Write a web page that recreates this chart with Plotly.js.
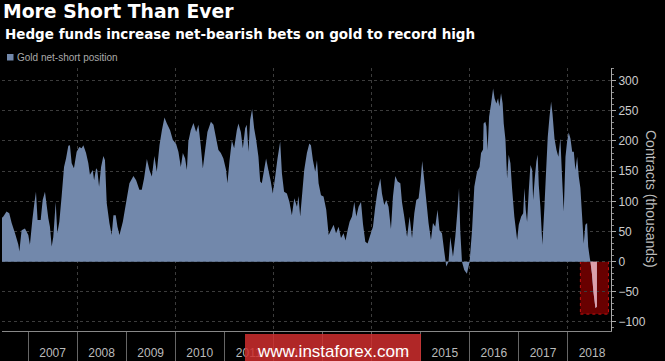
<!DOCTYPE html>
<html><head><meta charset="utf-8">
<script src="https://cdn.plot.ly/plotly-3.0.1.min.js"></script>
<style>html,body{margin:0;padding:0;background:#000;}#chart{width:665px;height:361px;}</style>
</head><body><div id="chart"></div>
<script>
// Weekly-ish readings, dates as decimal years
const dates = [
2006.463,2006.497,2006.564,2006.619,2006.667,2006.735,2006.803,2006.823,2006.871,2006.939,
2007.007,2007.041,2007.088,2007.129,2007.163,2007.197,2007.259,2007.299,2007.347,2007.415,
2007.449,2007.483,2007.517,2007.565,2007.599,2007.639,2007.687,2007.735,2007.776,2007.823,
2007.857,2007.891,2007.939,2007.993,2008.048,2008.095,2008.129,2008.184,2008.231,2008.265,
2008.320,2008.347,2008.388,2008.415,2008.449,2008.490,2008.537,2008.571,2008.605,2008.660,
2008.707,2008.741,2008.789,2008.823,2008.864,2008.933,2009.000,2009.067,2009.149,2009.204,
2009.271,2009.320,2009.367,2009.422,2009.476,2009.524,2009.578,2009.627,2009.680,2009.729,
2009.782,2009.831,2009.898,2009.953,2010.020,2010.067,2010.116,2010.157,2010.204,2010.239,
2010.271,2010.320,2010.373,2010.429,2010.476,2010.524,2010.565,2010.612,2010.659,2010.729,
2010.782,2010.837,2010.884,2010.933,2010.986,2011.041,2011.067,2011.108,2011.157,2011.204,
2011.259,2011.292,2011.341,2011.382,2011.429,2011.463,2011.496,2011.531,2011.571,2011.612,
2011.653,2011.700,2011.735,2011.769,2011.816,2011.857,2011.904,2011.953,2011.994,2012.041,
2012.088,2012.143,2012.178,2012.224,2012.280,2012.333,2012.382,2012.429,2012.484,2012.516,
2012.551,2012.586,2012.633,2012.688,2012.735,2012.769,2012.810,2012.857,2012.892,2012.924,
2012.973,2013.027,2013.082,2013.129,2013.178,2013.231,2013.280,2013.333,2013.382,2013.435,
2013.476,2013.516,2013.557,2013.606,2013.653,2013.694,2013.741,2013.790,2013.831,2013.878,
2013.924,2013.980,2014.035,2014.082,2014.129,2014.184,2014.218,2014.265,2014.306,2014.353,
2014.402,2014.443,2014.490,2014.537,2014.592,2014.627,2014.673,2014.729,2014.782,2014.831,
2014.878,2014.918,2014.965,2015.000,2015.041,2015.082,2015.122,2015.169,2015.218,2015.259,
2015.306,2015.353,2015.394,2015.443,2015.490,2015.531,2015.578,2015.612,2015.667,2015.714,
2015.761,2015.790,2015.816,2015.851,2015.898,2015.953,2016.006,2016.055,2016.102,2016.157,
2016.210,2016.239,2016.280,2016.292,2016.327,2016.347,2016.373,2016.402,2016.443,2016.484,
2016.516,2016.551,2016.586,2016.612,2016.647,2016.680,2016.700,2016.735,2016.769,2016.802,
2016.837,2016.871,2016.918,2016.973,2017.006,2017.055,2017.096,2017.122,2017.149,2017.178,
2017.210,2017.245,2017.280,2017.300,2017.333,2017.367,2017.394,2017.414,2017.449,2017.490,
2017.531,2017.565,2017.598,2017.633,2017.667,2017.694,2017.735,2017.776,2017.816,2017.857,
2017.892,2017.924,2017.959,2017.994,2018.027,2018.061,2018.096,2018.129,2018.163,2018.198,
2018.231,2018.265,2018.300,2018.333,2018.367,2018.402,2018.422,2018.455,2018.469,2018.500,
2018.531,2018.571,2018.602
];
// Gold net-short position, contracts (thousands)
const netShort = [
72,75,83,80,64,47,28,17,52,55,
44,28,69,97,116,69,69,102,116,72,
58,25,41,99,47,66,108,157,171,192,
193,163,155,182,190,188,193,180,163,144,
152,135,155,152,124,157,175,168,97,64,
44,77,77,58,44,66,99,130,142,135,
119,119,138,170,152,141,175,149,193,218,
239,229,218,202,195,182,157,180,171,152,
199,218,230,215,227,191,155,185,215,232,
227,204,185,180,171,152,130,166,201,188,
218,229,215,188,221,227,182,235,253,221,
202,174,133,130,152,171,152,133,113,141,
171,199,146,116,113,99,77,105,91,109,
75,108,152,180,196,193,168,149,168,130,
110,108,86,44,52,61,47,58,39,47,
35,52,66,75,99,75,91,99,62,33,
30,44,58,91,119,138,113,94,102,91,
54,108,142,133,130,99,75,41,75,39,
80,102,105,130,167,135,102,64,36,64,
58,86,52,47,17,-8,0,41,8,41,
86,122,52,0,-14,-20,0,52,124,149,
157,180,186,229,232,224,185,240,262,287,
271,262,271,257,279,262,229,202,138,177,
163,122,75,36,61,75,80,122,86,66,
116,160,152,102,138,166,177,127,91,28,
91,152,207,240,265,246,204,185,174,204,
138,83,174,199,214,204,182,182,152,174,
141,122,75,30,61,64,25,6,0,-20,
-50,-77,-75
];
const yTicks = [-100,-50,0,50,100,150,200,250,300];
const seriesName = 'Gold net-short position';
const titleText = 'More Short Than Ever';
const subtitleText = 'Hedge funds increase net-bearish bets on gold to record high';
const yTitleText = 'Contracts (thousands)';
const highlightStart = 278; // first reading at/below zero in 2018

function dy(y){
  const yr = Math.floor(y);
  const s = Date.UTC(yr,0,1), e = Date.UTC(yr+1,0,1);
  return new Date(s + (y-yr)*(e-s)).toISOString().slice(0,10);
}
const x = dates.map(dy);
const xRange = [dy(2006.469), dy(2018.888)];

const BLUE = '#7288ab';
const traces = [
  {x: x, y: netShort, type:'scatter', mode:'none', fill:'tozeroy', fillcolor: BLUE,
   name: seriesName, xaxis:'x', yaxis:'y', hoverinfo:'skip'},
  {x: x.slice(highlightStart), y: netShort.slice(highlightStart), type:'scatter', mode:'none',
   fill:'tozeroy', fillcolor:'#dc9fac', xaxis:'x2', yaxis:'y', showlegend:false, hoverinfo:'skip'}
];

const FONT = 'Liberation Sans, Arial, sans-serif';
const layout = {
  width: 665, height: 361,
  margin: {l:2, r:54, t:68, b:30, pad:0},
  paper_bgcolor:'#000', plot_bgcolor:'#000',
  showlegend:false,
  title: {text: titleText, x: 3/665, xanchor:'left', xref:'container',
          y: 1 - 5/361, yanchor:'top', yref:'container',
          font:{family:'DejaVu Sans, sans-serif', size:18.8, color:'#fff', weight:'bold'}},
  xaxis: {type:'date', range:xRange, showgrid:true, gridcolor:'#3c3c3c', griddash:'dot', gridwidth:1,
          dtick:'M24', tick0:'2008-01-01', ticks:'', showticklabels:false,
          showline:true, linecolor:'#888', linewidth:1, zeroline:false, fixedrange:true},
  xaxis2: {type:'date', range:xRange, overlaying:'x', anchor:'y', side:'bottom',
           showgrid:false, dtick:'M12', tick0:'2007-01-01', ticks:'outside', ticklen:30,
           tickcolor:'#666', tickwidth:1, ticklabelmode:'period', ticklabelstandoff:-19,
           tickformat:'%Y', tickfont:{family:FONT, size:12, color:'#bbb'},
           showline:false, zeroline:false},
  yaxis: {range:[-115,321], side:'right', tickvals:yTicks, showgrid:true, gridcolor:'#3c3c3c',
          griddash:'dot', zeroline:false, ticks:'outside', ticklen:4, tickcolor:'#aaa',
          showline:true, linecolor:'#aaa', linewidth:1,
          minor:{dtick:10, ticks:'outside', ticklen:2, tickcolor:'#888', showgrid:false},
          tickfont:{family:FONT, size:12, color:'#ccc'}},
  shapes: [
    {type:'rect', xref:'x', yref:'y', x0:dy(2018.265), x1:dy(2018.837), y0:-87, y1:0,
     fillcolor:'rgba(130,0,0,0.8)', line:{color:'#c81010', width:1, dash:'dot'}, layer:'below'},
    {type:'rect', xref:'paper', yref:'paper', x0:(7-2)/609, x1:(13.5-2)/609,
     y0:(331-60.5)/263, y1:(331-54)/263, fillcolor:BLUE, line:{width:0}},
    {type:'rect', xref:'paper', yref:'paper', x0:(245-2)/609, x1:(421-2)/609,
     y0:(331-361)/263, y1:(331-334)/263, fillcolor:'rgba(205,45,45,0.86)', line:{width:0}, layer:'above'}
  ],
  annotations: [
    {text: subtitleText, xref:'paper', yref:'paper', x:0.0016, y:(331-34)/263,
     xanchor:'left', yanchor:'middle', showarrow:false,
     font:{family:'DejaVu Sans, sans-serif', size:13.5, color:'#fff', weight:'bold'}},
    {text: seriesName, xref:'paper', yref:'paper', x:(15-2)/609, y:(331-57.5)/263,
     xanchor:'left', yanchor:'middle', showarrow:false,
     font:{family:FONT, size:10, color:'#aaa'}},
    {text: yTitleText, xref:'paper', yref:'paper', x:(651.5-2)/609, y:(331-198.5)/263,
     xanchor:'center', yanchor:'middle', textangle:90, showarrow:false,
     font:{family:FONT, size:14, color:'#bbb'}},
    {text:'www.instaforex.com', xref:'paper', yref:'paper', x:(333-2)/609, y:(331-351)/263,
     xanchor:'center', yanchor:'middle', showarrow:false,
     font:{family:FONT, size:17, color:'#fff'}}
  ]
};
Plotly.newPlot('chart', traces, layout, {staticPlot:true, displayModeBar:false});
</script>
</body></html>
